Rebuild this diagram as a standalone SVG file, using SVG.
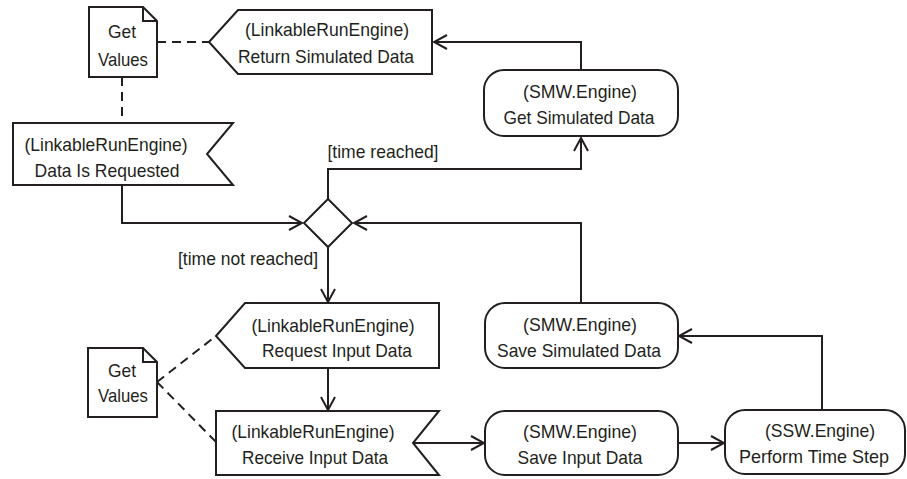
<svg xmlns="http://www.w3.org/2000/svg" width="907" height="479" viewBox="0 0 907 479">
<style>
.s{fill:#fff;stroke:#231f20;stroke-width:2;stroke-linejoin:miter}
.c{fill:none;stroke:#231f20;stroke-width:2}
.d{fill:none;stroke:#231f20;stroke-width:2;stroke-dasharray:9 6}
text{font-family:"Liberation Sans",Arial,sans-serif;font-size:19px;fill:#231f20;text-anchor:middle}
</style>
<defs>
<marker id="arr" viewBox="-15 -10 17 20" refX="0" refY="0" markerWidth="17" markerHeight="20" orient="auto" markerUnits="userSpaceOnUse">
<path d="M-13,-7 L0,0 L-13,7" fill="none" stroke="#231f20" stroke-width="2"/>
</marker>
</defs>
<rect width="907" height="479" fill="#fff"/>
<g id="connectors">
<path class="c" d="M581,70 V42 H434" marker-end="url(#arr)"/>
<path class="c" d="M328,199 V169 H581 V138" marker-end="url(#arr)"/>
<path class="c" d="M122,185 V223 H302" marker-end="url(#arr)"/>
<path class="c" d="M581,303 V223 H354" marker-end="url(#arr)"/>
<path class="c" d="M328,247 V302" marker-end="url(#arr)"/>
<path class="c" d="M328,368 V410" marker-end="url(#arr)"/>
<path class="c" d="M413,443 H484" marker-end="url(#arr)"/>
<path class="c" d="M678,443 H724" marker-end="url(#arr)"/>
<path class="c" d="M822,410 V336 H679" marker-end="url(#arr)"/>
<path class="d" d="M157,42 H209"/>
<path class="d" d="M122,77 V123"/>
<path class="d" d="M157,382 L216,336"/>
<path class="d" d="M157,382 L216,442"/>
<text x="383" y="158" textLength="111" lengthAdjust="spacingAndGlyphs">[time reached]</text>
<text x="318" y="265" style="text-anchor:end" textLength="140" lengthAdjust="spacingAndGlyphs">[time not reached]</text>
</g>
<g id="note1">
<path class="s" d="M89,7 H143 L157,21 V77 H89 Z"/>
<path class="c" d="M143,7 V21 H157"/>
<text x="122" y="38" textLength="28" lengthAdjust="spacingAndGlyphs">Get</text>
<text x="123" y="66" textLength="50" lengthAdjust="spacingAndGlyphs">Values</text>
</g>
<g id="returnSimulated">
<polygon class="s" points="209,42 238,10 432,10 432,74 238,74"/>
<text x="327" y="36" textLength="164" lengthAdjust="spacingAndGlyphs">(LinkableRunEngine)</text>
<text x="326" y="63" textLength="176" lengthAdjust="spacingAndGlyphs">Return Simulated Data</text>
</g>
<g id="dataRequested">
<polygon class="s" points="13,123 233,123 207,154 233,185 13,185"/>
<text x="106" y="151" textLength="163" lengthAdjust="spacingAndGlyphs">(LinkableRunEngine)</text>
<text x="107" y="177" textLength="145" lengthAdjust="spacingAndGlyphs">Data Is Requested</text>
</g>
<g id="getSimulated">
<rect class="s" x="484" y="70" width="194" height="66" rx="20"/>
<text x="580" y="98" textLength="114" lengthAdjust="spacingAndGlyphs">(SMW.Engine)</text>
<text x="579" y="124" textLength="151" lengthAdjust="spacingAndGlyphs">Get Simulated Data</text>
</g>
<g id="decision">
<polygon class="s" points="328,199 352,223 328,247 304,223"/>
</g>
<g id="requestInput">
<polygon class="s" points="216,336 245,303 439,303 439,368 245,368"/>
<text x="333" y="332" textLength="163" lengthAdjust="spacingAndGlyphs">(LinkableRunEngine)</text>
<text x="337" y="357" textLength="150" lengthAdjust="spacingAndGlyphs">Request Input Data</text>
</g>
<g id="receiveInput">
<polygon class="s" points="216,411 439,411 413,443 439,475 216,475"/>
<text x="313" y="438" textLength="163" lengthAdjust="spacingAndGlyphs">(LinkableRunEngine)</text>
<text x="315" y="464" textLength="146" lengthAdjust="spacingAndGlyphs">Receive Input Data</text>
</g>
<g id="saveSimulated">
<rect class="s" x="485" y="303" width="193" height="65" rx="20"/>
<text x="580" y="331" textLength="114" lengthAdjust="spacingAndGlyphs">(SMW.Engine)</text>
<text x="579" y="357" textLength="164" lengthAdjust="spacingAndGlyphs">Save Simulated Data</text>
</g>
<g id="saveInput">
<rect class="s" x="485" y="411" width="193" height="64" rx="20"/>
<text x="580" y="438" textLength="114" lengthAdjust="spacingAndGlyphs">(SMW.Engine)</text>
<text x="580" y="464" textLength="125" lengthAdjust="spacingAndGlyphs">Save Input Data</text>
</g>
<g id="performStep">
<rect class="s" x="725" y="410" width="180" height="64" rx="20"/>
<text x="820" y="437" textLength="110" lengthAdjust="spacingAndGlyphs">(SSW.Engine)</text>
<text x="814" y="463" textLength="150" lengthAdjust="spacingAndGlyphs">Perform Time Step</text>
</g>
<g id="note2">
<path class="s" d="M88,348 H143 L157,362 V417 H88 Z"/>
<path class="c" d="M143,348 V362 H157"/>
<text x="122" y="377" textLength="28" lengthAdjust="spacingAndGlyphs">Get</text>
<text x="123" y="402" textLength="50" lengthAdjust="spacingAndGlyphs">Values</text>
</g>
</svg>
